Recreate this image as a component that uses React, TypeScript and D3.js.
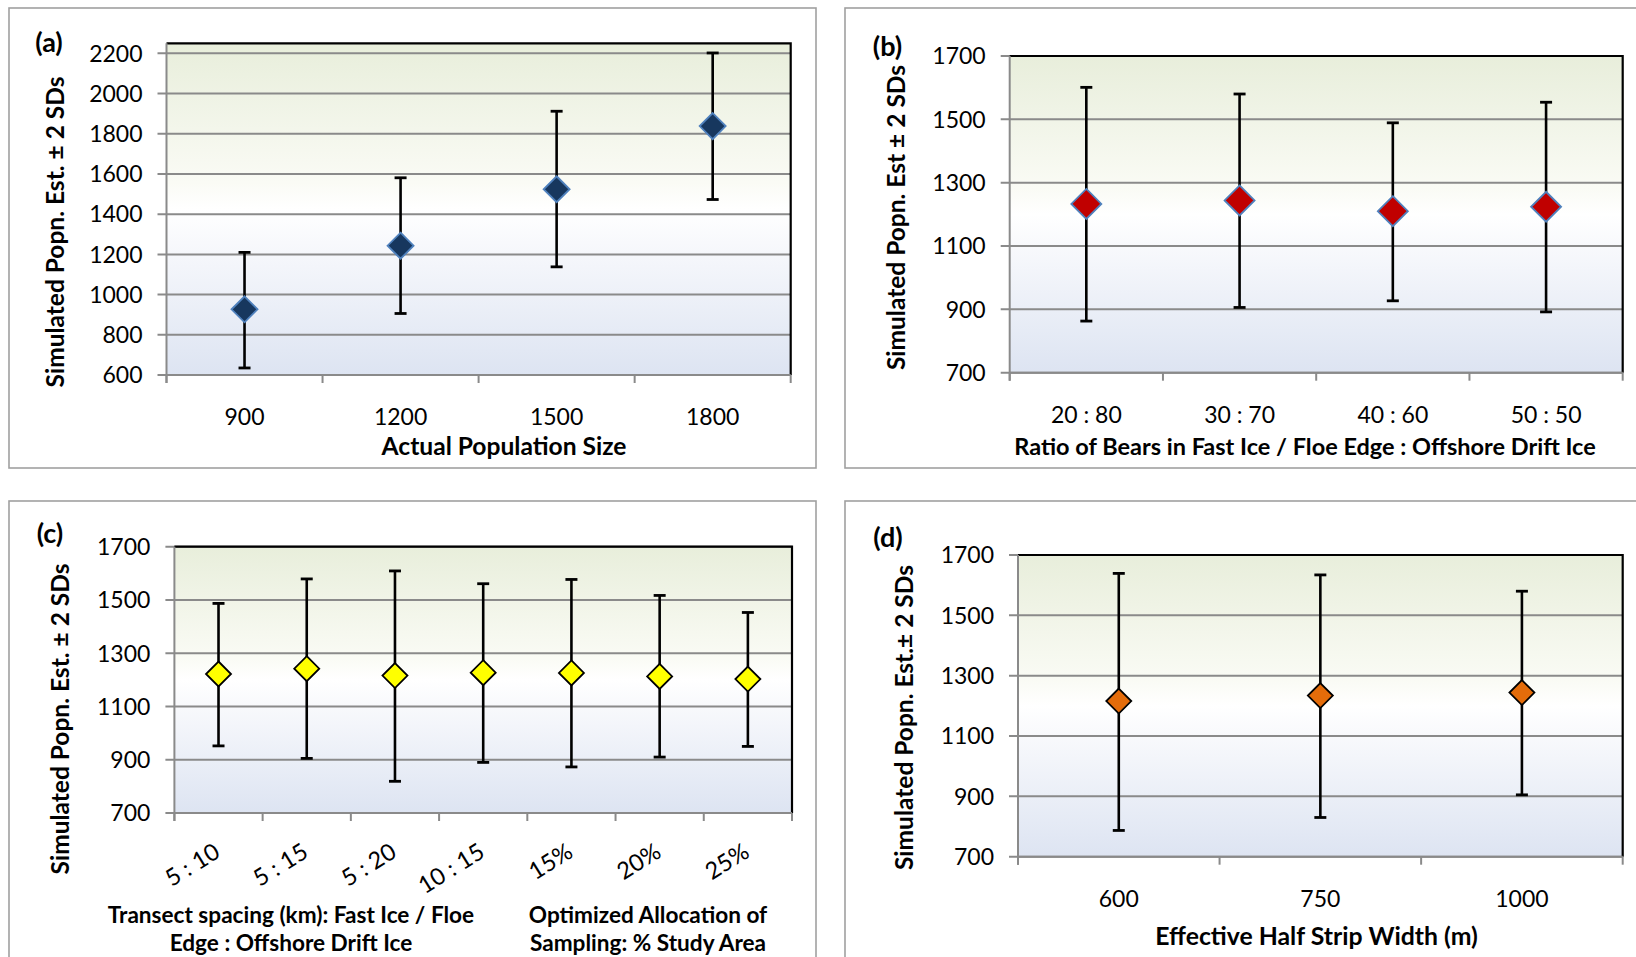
import React from "react";
import * as d3 from "d3";

// panel (a)
const catsA = ["900", "1200", "1500", "1800"];
const meanA = [927, 1243, 1524, 1838];
const lowA = [635, 906, 1138, 1473];
const highA = [1210, 1581, 1912, 2202];
const ticksA = [600, 800, 1000, 1200, 1400, 1600, 1800, 2000, 2200];

// panel (b)
const catsB = ["20 : 80", "30 : 70", "40 : 60", "50 : 50"];
const meanB = [1233, 1244, 1210, 1224];
const lowB = [863, 906, 927, 892];
const highB = [1601, 1580, 1489, 1554];

// panel (c)
const catsC = ["5 : 10", "5 : 15", "5 : 20", "10 : 15", "15%", "20%", "25%"];
const meanC = [1222, 1242, 1216, 1227, 1226, 1213, 1203];
const lowC = [952, 905, 819, 890, 873, 910, 950];
const highC = [1487, 1579, 1609, 1561, 1577, 1517, 1453];

// panel (d)
const catsD = ["600", "750", "1000"];
const meanD = [1216, 1234, 1244];
const lowD = [787, 830, 905];
const highD = [1639, 1634, 1580];

const ticks700 = [700, 900, 1100, 1300, 1500, 1700];

const FONT = "Lato, 'Open Sans', sans-serif";
const GRID = "#8a8a8a";

type Props = {
  tag: string;
  tagPos: [number, number];
  frame: [number, number, number, number];
  plot: [number, number, number, number]; // x0, x1, yTop, yBottom
  cats: string[];
  mean: number[];
  low: number[];
  high: number[];
  ticks: number[];
  yDomain: [number, number];
  fill: string;
  outline: string;
  size: number;
  yTitle: string;
  yTitlePos: [number, number];
  xTitle?: string;
  xTitlePos?: [number, number];
  xTitleSize?: number;
  rotate?: boolean;
};

const Panel = (p: Props) => {
  const [x0, x1, yT, yB] = p.plot;
  const x = d3.scaleBand().domain(p.cats).range([x0, x1]);
  const y = d3.scaleLinear().domain(p.yDomain).range([yB, yT]);
  const bw = x.bandwidth();
  const bounds = p.cats.map((c) => x(c) as number).concat([x1]);

  return (
    <g>
      <rect
        x={p.frame[0]}
        y={p.frame[1]}
        width={p.frame[2]}
        height={p.frame[3]}
        fill="#fff"
        stroke="#a0a0a0"
        strokeWidth={1.6}
      />
      <rect x={x0} y={yT} width={x1 - x0} height={yB - yT} fill="url(#bg)" />
      {p.ticks.map((t) => (
        <g key={t}>
          <line x1={x0 - 9} x2={x1} y1={y(t)} y2={y(t)} stroke={GRID} strokeWidth={2} />
          <text
            x={x0 - 24}
            y={y(t)}
            dy="0.36em"
            textAnchor="end"
            fontSize={23}
            fontFamily={FONT}
            fill="#000"
          >
            {t}
          </text>
        </g>
      ))}
      {/* top and right border */}
      <path
        d={`M${x0},${yT}H${x1}V${yB}`}
        fill="none"
        stroke="#000"
        strokeWidth={2.2}
      />
      {/* axes */}
      <line x1={x0} x2={x0} y1={yT} y2={yB + 8} stroke={GRID} strokeWidth={2} />
      <line x1={x0} x2={x1} y1={yB} y2={yB} stroke={GRID} strokeWidth={2} />
      {bounds.map((b, i) => (
        <line key={i} x1={b} x2={b} y1={yB} y2={yB + 8} stroke={GRID} strokeWidth={2} />
      ))}
      {p.cats.map((c) => {
        const cx = (x(c) as number) + bw / 2;
        return p.rotate ? (
          <text
            key={c}
            transform={`translate(${cx + 3},${yB + 43}) rotate(-32)`}
            textAnchor="end"
            fontSize={23.5}
            fontFamily={FONT}
          >
            {c}
          </text>
        ) : (
          <text
            key={c}
            x={cx}
            y={yB + 42}
            dy="0.36em"
            textAnchor="middle"
            fontSize={23}
            fontFamily={FONT}
          >
            {c}
          </text>
        );
      })}
      {/* error bars and diamonds */}
      {p.cats.map((c, i) => {
        const cx = (x(c) as number) + bw / 2;
        const cy = y(p.mean[i]);
        const s = p.size;
        return (
          <g key={c}>
            <line x1={cx} x2={cx} y1={y(p.low[i])} y2={y(p.high[i])} stroke="#000" strokeWidth={2.6} />
            <line x1={cx - 6} x2={cx + 6} y1={y(p.low[i])} y2={y(p.low[i])} stroke="#000" strokeWidth={2.8} />
            <line x1={cx - 6} x2={cx + 6} y1={y(p.high[i])} y2={y(p.high[i])} stroke="#000" strokeWidth={2.8} />
            <path
              d={`M${cx},${cy - s}L${cx + s},${cy}L${cx},${cy + s}L${cx - s},${cy}Z`}
              fill={p.fill}
              stroke={p.outline}
              strokeWidth={1.8}
            />
          </g>
        );
      })}
      <text
        transform={`translate(${p.yTitlePos[0]},${p.yTitlePos[1]}) rotate(-90)`}
        textAnchor="middle"
        dy="0.35em"
        fontSize={24.5}
        fontWeight="bold"
        fontFamily={FONT}
      >
        {p.yTitle}
      </text>
      {p.xTitle && p.xTitlePos && (
        <text
          x={p.xTitlePos[0]}
          y={p.xTitlePos[1]}
          dy="0.35em"
          textAnchor="middle"
          fontSize={p.xTitleSize ?? 24.5}
          fontWeight="bold"
          fontFamily={FONT}
        >
          {p.xTitle}
        </text>
      )}
      <text
        x={p.tagPos[0]}
        y={p.tagPos[1]}
        dy="0.35em"
        textAnchor="middle"
        fontSize={27}
        fontWeight="bold"
        fontFamily={FONT}
      >
        {p.tag}
      </text>
    </g>
  );
};

const App = () => {
  return (
    <svg
      width={1636}
      height={957}
      style={{ position: "absolute", left: 0, top: 0, background: "#fff" }}
    >
      <defs>
        <linearGradient id="bg" x1="0" y1="0" x2="0" y2="1">
          <stop offset="0" stopColor="#e8eedb" />
          <stop offset="0.42" stopColor="#fafbf5" />
          <stop offset="0.5" stopColor="#ffffff" />
          <stop offset="0.6" stopColor="#f8f9fc" />
          <stop offset="1" stopColor="#dde4f2" />
        </linearGradient>
      </defs>
      <Panel
        tag="(a)"
        tagPos={[49, 42.5]}
        frame={[9, 8, 807, 460]}
        plot={[166.5, 790.7, 43.3, 375]}
        cats={catsA}
        mean={meanA}
        low={lowA}
        high={highA}
        ticks={ticksA}
        yDomain={[600, 2250]}
        fill="#17375e"
        outline="#4f81bd"
        size={13}
        yTitle="Simulated Popn. Est. ± 2 SDs"
        yTitlePos={[55.8, 232]}
        xTitle="Actual Population Size"
        xTitlePos={[504, 446.6]}
        xTitleSize={24.6}
      />
      <Panel
        tag="(b)"
        tagPos={[887.5, 46.5]}
        frame={[845, 8, 800, 460]}
        plot={[1009.7, 1622.7, 56, 372.7]}
        cats={catsB}
        mean={meanB}
        low={lowB}
        high={highB}
        ticks={ticks700}
        yDomain={[700, 1700]}
        fill="#c00000"
        outline="#4f81bd"
        size={15}
        yTitle="Simulated Popn. Est ± 2 SDs"
        yTitlePos={[896.4, 217.5]}
        xTitle="Ratio of Bears in Fast Ice / Floe Edge : Offshore Drift Ice"
        xTitlePos={[1305, 446.7]}
        xTitleSize={23.5}
      />
      <Panel
        tag="(c)"
        tagPos={[50, 534]}
        frame={[9, 501, 807, 500]}
        plot={[174.4, 792, 546.7, 813]}
        cats={catsC}
        mean={meanC}
        low={lowC}
        high={highC}
        ticks={ticks700}
        yDomain={[700, 1700]}
        fill="#ffff00"
        outline="#000"
        size={12.5}
        yTitle="Simulated Popn. Est. ± 2 SDs"
        yTitlePos={[60, 719]}
        rotate
      />
      {/* group labels under (c) */}
      <g fontFamily={FONT} fontSize={22.6} fontWeight="bold" textAnchor="middle">
        <text x={291} y={915} dy="0.35em">Transect spacing (km): Fast Ice / Floe</text>
        <text x={291} y={943} dy="0.35em">Edge : Offshore Drift Ice</text>
        <text x={648} y={915} dy="0.35em">Optimized Allocation of</text>
        <text x={648} y={943} dy="0.35em">Sampling: % Study Area</text>
      </g>
      <Panel
        tag="(d)"
        tagPos={[888, 538]}
        frame={[845, 501, 800, 500]}
        plot={[1018, 1622.7, 555, 856.7]}
        cats={catsD}
        mean={meanD}
        low={lowD}
        high={highD}
        ticks={ticks700}
        yDomain={[700, 1700]}
        fill="#e46c0a"
        outline="#000"
        size={12.5}
        yTitle="Simulated Popn. Est.± 2 SDs"
        yTitlePos={[904, 717.5]}
        xTitle="Effective Half Strip Width (m)"
        xTitlePos={[1316.6, 936.7]}
        xTitleSize={24.8}
      />
    </svg>
  );
};

export default App;
